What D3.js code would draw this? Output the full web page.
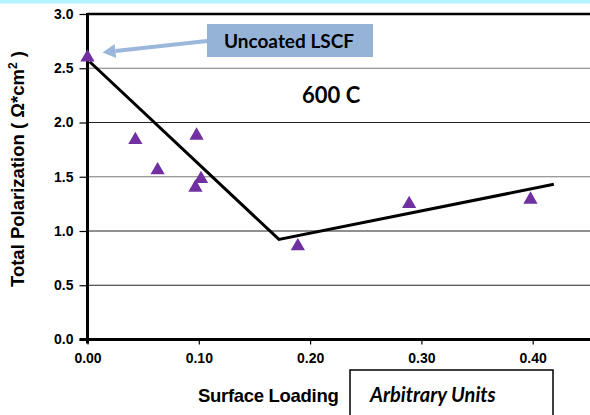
<!DOCTYPE html>
<html>
<head>
<meta charset="utf-8">
<script src="https://cdn.jsdelivr.net/npm/d3@7"></script>
<style>
  html, body { margin: 0; padding: 0; background: #fff; }
  svg { display: block; }
  .tick text { font-family: "Liberation Sans", Arial, sans-serif; font-weight: bold; font-size: 14px; fill: #000; }
</style>
</head>
<body>
<script>
// measured points (surface loading vs total polarization)
const loading = [0.000, 0.043, 0.063, 0.098, 0.097, 0.102, 0.189, 0.289, 0.398];
const polarization = [2.60, 1.84, 1.56, 1.88, 1.40, 1.48, 0.86, 1.25, 1.29];

// hand-drawn trend line
const trendX = [0.002, 0.172, 0.419];
const trendY = [2.56, 0.923, 1.43];

const xTicks = [0, 0.1, 0.2, 0.3, 0.4];
const yTicks = [0, 0.5, 1.0, 1.5, 2.0, 2.5, 3.0];

const W = 590, H = 415;
const margin = {top: 14, left: 87.5, bottom: 339.5};

const svg = d3.select('body').append('svg')
  .attr('width', W)
  .attr('height', H);

// cyan strip at the top
svg.append('rect')
  .attr('x', 0).attr('y', 0)
  .attr('width', W).attr('height', 3.5)
  .attr('fill', '#b2f4fb');

const x = d3.scaleLinear().domain([0, 0.46]).range([margin.left, margin.left + 0.46 * 1113]);
const y = d3.scaleLinear().domain([0, 3]).range([margin.bottom, margin.top]);

// gridlines
svg.append('g')
  .selectAll('line')
  .data(yTicks.filter(d => d > 0 && d < 3))
  .join('line')
  .attr('x1', margin.left).attr('x2', W)
  .attr('y1', d => y(d)).attr('y2', d => y(d))
  .attr('stroke', d => (d === 2.5 || d === 1.5) ? '#7a7a7a' : '#222')
  .attr('stroke-width', 1.2);

// top border
svg.append('line')
  .attr('x1', margin.left).attr('x2', W)
  .attr('y1', y(3)).attr('y2', y(3))
  .attr('stroke', '#000').attr('stroke-width', 2.5);

// axes
const yAxis = svg.append('g')
  .attr('transform', `translate(${margin.left},0)`)
  .call(d3.axisLeft(y).tickValues(yTicks).tickFormat(d3.format('.1f')).tickSize(8).tickPadding(6));
yAxis.select('.domain').remove();
yAxis.selectAll('.tick line').attr('stroke', '#000').attr('stroke-width', 1.2);

const xAxis = svg.append('g')
  .attr('transform', `translate(0,${margin.bottom})`)
  .call(d3.axisBottom(x).tickValues(xTicks).tickFormat(d3.format('.2f')).tickSize(5).tickPadding(9));
xAxis.select('.domain').remove();
xAxis.selectAll('.tick line').attr('stroke', '#000').attr('stroke-width', 1.2);

svg.append('line')
  .attr('x1', margin.left - 8).attr('x2', W)
  .attr('y1', margin.bottom).attr('y2', margin.bottom)
  .attr('stroke', '#000').attr('stroke-width', 3);
svg.append('line')
  .attr('x1', margin.left).attr('x2', margin.left)
  .attr('y1', margin.top - 1).attr('y2', margin.bottom + 4)
  .attr('stroke', '#000').attr('stroke-width', 3);

// trend line
svg.append('path')
  .datum(d3.zip(trendX, trendY))
  .attr('fill', 'none')
  .attr('stroke', '#000')
  .attr('stroke-width', 3)
  .attr('d', d3.line().x(d => x(d[0])).y(d => y(d[1])));

// data points
svg.append('g')
  .selectAll('path')
  .data(d3.zip(loading, polarization))
  .join('path')
  .attr('transform', d => `translate(${x(d[0])},${y(d[1])})`)
  .attr('d', d3.symbol(d3.symbolTriangle, 88))
  .attr('fill', '#7030a0');

// annotation: Uncoated LSCF
const note = svg.append('g');
note.append('rect')
  .attr('x', 207).attr('y', 24)
  .attr('width', 166).attr('height', 33)
  .attr('fill', '#95b3d7');
note.append('text')
  .attr('x', 289).attr('y', 48)
  .attr('text-anchor', 'middle')
  .attr('font-family', 'Lato, "Open Sans", sans-serif')
  .attr('font-weight', 'bold')
  .attr('font-size', 19)
  .text('Uncoated LSCF');

// arrow to the uncoated point
const tipX = x(0) + 15, tipY = y(2.6) - 5;
const fromX = 207, fromY = 41;
const ang = Math.atan2(fromY - tipY, fromX - tipX);
const headLen = 13, headW = 7;
const bx = tipX + headLen * Math.cos(ang), by = tipY + headLen * Math.sin(ang);
note.append('line')
  .attr('x1', fromX).attr('y1', fromY)
  .attr('x2', bx).attr('y2', by)
  .attr('stroke', '#9bb8dc').attr('stroke-width', 4);
note.append('path')
  .attr('d', `M${tipX},${tipY}L${bx - headW * Math.sin(ang)},${by + headW * Math.cos(ang)}L${bx + headW * Math.sin(ang)},${by - headW * Math.cos(ang)}Z`)
  .attr('fill', '#9bb8dc');

// temperature label
svg.append('text')
  .attr('x', 302).attr('y', 103)
  .attr('font-family', 'Lato, "Open Sans", sans-serif')
  .attr('font-weight', 'bold')
  .attr('font-size', 22)
  .text('600 C');

// y axis title
const yt = svg.append('text')
  .attr('transform', 'translate(24,169) rotate(-90)')
  .attr('text-anchor', 'middle')
  .attr('font-family', '"Liberation Sans", Arial, sans-serif')
  .attr('font-weight', 'bold')
  .attr('font-size', 18.5);
yt.append('tspan').text('Total Polarization  ( Ω*cm');
yt.append('tspan').attr('font-size', 12).attr('dy', -7).text('2');
yt.append('tspan').attr('dy', 7).text(' )');

// x axis title
svg.append('text')
  .attr('x', 198).attr('y', 402)
  .attr('font-family', '"Liberation Sans", Arial, sans-serif')
  .attr('font-weight', 'bold')
  .attr('font-size', 18.5)
  .attr('letter-spacing', -0.3)
  .text('Surface Loading');

// units box
svg.append('rect')
  .attr('x', 350).attr('y', 370)
  .attr('width', 203).attr('height', 60)
  .attr('fill', 'none')
  .attr('stroke', '#000')
  .attr('stroke-width', 1.5);
svg.append('text')
  .attr('x', 370).attr('y', 402)
  .attr('font-family', 'Lato, "Open Sans", sans-serif')
  .attr('font-weight', 'bold')
  .attr('font-style', 'italic')
  .attr('font-size', 20)
  .text('Arbitrary Units');
</script>
</body>
</html>
